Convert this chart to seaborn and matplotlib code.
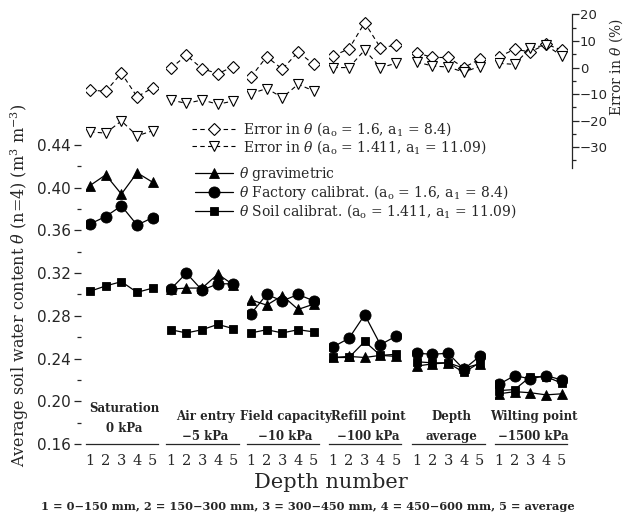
import matplotlib
matplotlib.use("Agg")
import matplotlib.pyplot as plt
import seaborn as sns
import numpy as np
import pandas as pd
from matplotlib.lines import Line2D

# ---------------- data ----------------
depth = [1, 2, 3, 4, 5]
depth_ticklabels = ["1", "2", "3", "4", "5"]
group_title = ["Saturation", "Air entry", "Field capacity", "Refill point", "Depth", "Wilting point"]
group_sub = ["0 kPa", "\u22125 kPa", "\u221210 kPa", "\u2212100 kPa", "average", "\u22121500 kPa"]

theta_grav = [
    [0.402, 0.412, 0.394, 0.414, 0.405],
    [0.305, 0.306, 0.306, 0.319, 0.309],
    [0.295, 0.290, 0.299, 0.286, 0.291],
    [0.241, 0.242, 0.241, 0.243, 0.242],
    [0.233, 0.235, 0.236, 0.231, 0.235],
    [0.207, 0.209, 0.208, 0.206, 0.207],
]
theta_factory = [
    [0.366, 0.373, 0.383, 0.365, 0.372],
    [0.305, 0.320, 0.304, 0.310, 0.310],
    [0.282, 0.300, 0.294, 0.300, 0.294],
    [0.251, 0.259, 0.281, 0.253, 0.261],
    [0.245, 0.244, 0.245, 0.230, 0.242],
    [0.216, 0.224, 0.221, 0.224, 0.220],
]
theta_soil = [
    [0.303, 0.308, 0.312, 0.302, 0.306],
    [0.267, 0.264, 0.267, 0.272, 0.268],
    [0.264, 0.267, 0.264, 0.267, 0.265],
    [0.241, 0.241, 0.256, 0.243, 0.244],
    [0.237, 0.236, 0.236, 0.227, 0.236],
    [0.210, 0.211, 0.223, 0.223, 0.217],
]
err_factory = [
    [-8.4, -9.0, -2.1, -11.0, -7.6],
    [-0.3, 4.6, -0.4, -2.3, 0.4],
    [-3.5, 4.1, -0.6, 5.9, 1.2],
    [4.4, 7.1, 16.9, 7.5, 8.4],
    [5.6, 3.8, 3.8, 0.0, 3.1],
    [4.1, 6.9, 5.9, 8.8, 6.6],
]
err_soil = [
    [-24.2, -24.7, -20.1, -25.7, -23.8],
    [-12.2, -13.5, -12.2, -13.8, -12.6],
    [-9.8, -7.9, -11.3, -6.3, -8.8],
    [0.0, 0.0, 6.6, 0.0, 1.6],
    [2.1, 0.6, 0.2, -1.7, 0.4],
    [1.6, 1.2, 7.5, 8.4, 4.4],
]

lab_err1 = r"Error in $\theta$ (a$_\mathrm{o}$ = 1.6, a$_1$ = 8.4)"
lab_err2 = r"Error in $\theta$ (a$_\mathrm{o}$ = 1.411, a$_1$ = 11.09)"
lab_grav = r"$\theta$ gravimetric"
lab_fac = r"$\theta$ Factory calibrat. (a$_\mathrm{o}$ = 1.6, a$_1$ = 8.4)"
lab_soil = r"$\theta$ Soil calibrat. (a$_\mathrm{o}$ = 1.411, a$_1$ = 11.09)"

# ---------------- style ----------------
sns.set_style("white")
plt.rcParams["font.family"] = ["DejaVu Serif"]
plt.rcParams["mathtext.fontset"] = "dejavuserif"
plt.rcParams["axes.linewidth"] = 0.9

W, H = 624, 513
fig = plt.figure(figsize=(W / 100, H / 100), dpi=100)

first_tick_px = [90, 170.7, 251, 333.3, 416.7, 499]
unit = 15.7
x0, x1 = 0.73, 5.33
ax_w = (x1 - x0) * unit
ax_bottom_px, ax_h = 69, 430
yl = (0.16, 0.16 + 430 / 1068.0)
yr = (-141.8, 20.18)

lw = 0.9
k_grav = dict(color="black", lw=lw, marker="^", markersize=7.5, markerfacecolor="black",
              markeredgecolor="black", markeredgewidth=0.6)
k_fac = dict(color="black", lw=lw, marker="o", markersize=8, markerfacecolor="black",
             markeredgecolor="black", markeredgewidth=0.6)
k_soil = dict(color="black", lw=lw, marker="s", markersize=6, markerfacecolor="black",
              markeredgecolor="black", markeredgewidth=0.6)
k_e1 = dict(color="black", lw=0.8, linestyle=(0, (4, 3)), marker="D", markersize=6,
            markerfacecolor="white", markeredgecolor="black", markeredgewidth=0.8)
k_e2 = dict(color="black", lw=0.8, linestyle=(0, (4, 3)), marker="v", markersize=7,
            markerfacecolor="white", markeredgecolor="black", markeredgewidth=0.8)

tick_font = "DejaVu Sans"

for g in range(6):
    left_px = first_tick_px[g] - (1 - x0) * unit
    ax = fig.add_axes([left_px / W, ax_bottom_px / H, ax_w / W, ax_h / H])
    ax.set_xlim(x0, x1)
    ax.set_ylim(*yl)
    ax.patch.set_alpha(0)
    tw = ax.twinx()
    tw.set_ylim(*yr)
    tw.patch.set_alpha(0)

    sns.lineplot(x=depth, y=err_factory[g], ax=tw, **k_e1)
    sns.lineplot(x=depth, y=err_soil[g], ax=tw, **k_e2)
    sns.lineplot(x=depth, y=theta_soil[g], ax=ax, **k_soil)
    sns.lineplot(x=depth, y=theta_grav[g], ax=ax, **k_grav)
    sns.lineplot(x=depth, y=theta_factory[g], ax=ax, **k_fac)
    ax.set_zorder(tw.get_zorder() + 1)

    for s in ["top", "right", "left"]:
        ax.spines[s].set_visible(False)
    for s in ["top", "left", "bottom"]:
        tw.spines[s].set_visible(False)
    ax.set_xticks(depth)
    ax.set_xticklabels(depth_ticklabels)
    ax.tick_params(axis="x", direction="out", length=5, width=0.9, pad=2, labelsize=10.5)
    ax.set_xlabel("")
    ax.set_ylabel("")
    tw.set_ylabel("")

    if g == 0:
        ax.spines["left"].set_position(("outward", 3.5))
        ax.spines["left"].set_bounds(0.16, 0.45)
        ax.set_yticks([0.16, 0.20, 0.24, 0.28, 0.32, 0.36, 0.40, 0.44])
        ax.set_yticks([0.18, 0.22, 0.26, 0.30, 0.34, 0.38, 0.42], minor=True)
        ax.tick_params(axis="y", which="major", direction="out", length=5, width=0.9,
                       labelsize=11, labelfontfamily=tick_font, pad=2)
        ax.tick_params(axis="y", which="minor", direction="out", length=3, width=0.9)
    else:
        ax.tick_params(axis="y", which="both", left=False, labelleft=False)

    if g == 5:
        tw.spines["right"].set_position(("outward", 3.4))
        tw.spines["right"].set_bounds(-38, 20)
        tw.set_yticks([-30, -20, -10, 0, 10, 20])
        tw.set_yticks([-35, -25, -15, -5, 5, 15], minor=True)
        tw.tick_params(axis="y", which="major", direction="out", length=5, width=0.9,
                       labelsize=9.5, labelfontfamily=tick_font, pad=1)
        tw.tick_params(axis="y", which="minor", direction="out", length=3, width=0.9)
    else:
        tw.spines["right"].set_visible(False)
        tw.tick_params(axis="y", which="both", right=False, labelright=False)

    # group labels
    if g == 0:
        y1px, y2px = 408.5, 429
    else:
        y1px, y2px = 416.5, 436.5
    ax.text(3.2, 0.16 + (444 - y1px) / 1068.0, group_title[g], ha="center", va="center",
            fontsize=8.5, fontweight="bold")
    ax.text(3.2, 0.16 + (444 - y2px) / 1068.0, group_sub[g], ha="center", va="center",
            fontsize=8.5, fontweight="bold")

# axis titles
fig.text(20 / W, 1 - 285 / H, r"Average soil water content $\theta$ (n=4) (m$^3$ m$^{-3}$)",
         rotation=90, ha="center", va="center", fontsize=11.5)
fig.text(616 / W, 1 - 67 / H, r"Error in $\theta$ (%)", rotation=90, ha="center", va="center",
         fontsize=10)
fig.text(331 / W, 1 - 483 / H, "Depth number", ha="center", va="center", fontsize=15)
fig.text(308 / W, 1 - 506 / H,
         "1 = 0\u2212150 mm, 2 = 150\u2212300 mm, 3 = 300\u2212450 mm, 4 = 450\u2212600 mm, 5 = average",
         ha="center", va="center", fontsize=8.2, fontweight="bold")

# legends
h_e1 = Line2D([], [], **k_e1)
h_e2 = Line2D([], [], **k_e2)
h_g = Line2D([], [], **k_grav)
h_f = Line2D([], [], **k_fac)
h_s = Line2D([], [], **k_soil)

leg1 = fig.legend([h_e1, h_e2], [lab_err1, lab_err2], loc="upper left",
                  bbox_to_anchor=(192 / W, 1 - 120 / H), frameon=False, fontsize=10,
                  handlelength=3.1, handletextpad=0.55, borderpad=0, borderaxespad=0,
                  labelspacing=0.0)
leg2 = fig.legend([h_g, h_f, h_s], [lab_grav, lab_fac, lab_soil], loc="upper left",
                  bbox_to_anchor=(195 / W, 1 - 165 / H), frameon=False, fontsize=10,
                  handlelength=2.7, handletextpad=0.5, borderpad=0, borderaxespad=0,
                  labelspacing=0.0)

fig.savefig("out.png", dpi=100)
